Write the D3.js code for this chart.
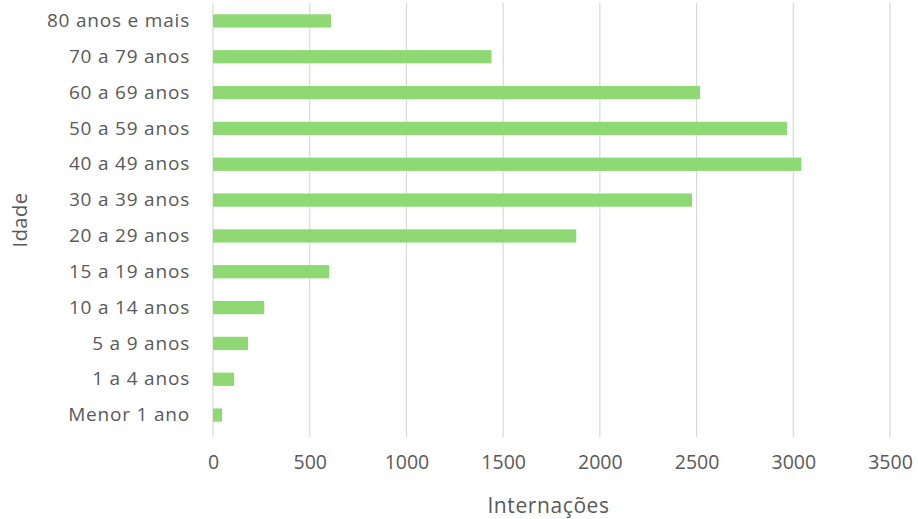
<!DOCTYPE html>
<html>
<head>
<meta charset="utf-8">
<script src="https://cdn.jsdelivr.net/npm/d3@7"></script>
<style>
  body { margin: 0; background: #fff; }
  text { font-family: "Open Sans", sans-serif; fill: #595959; }
</style>
</head>
<body>
<div id="chart"></div>
<script>

// data, top to bottom as drawn
const faixas = [
  "80 anos e mais", "70 a 79 anos", "60 a 69 anos", "50 a 59 anos",
  "40 a 49 anos", "30 a 39 anos", "20 a 29 anos", "15 a 19 anos",
  "10 a 14 anos", "5 a 9 anos", "1 a 4 anos", "Menor 1 ano"
];
const internacoes = [610, 1440, 2518, 2968, 3042, 2477, 1878, 601, 265, 181, 109, 47];
const xTicks = [0, 500, 1000, 1500, 2000, 2500, 3000, 3500];

const W = 918, H = 519;
const margins = { top: 3, right: 28, bottom: 86, left: 213 };
const graphWidth = W - margins.left - margins.right;
const graphHeight = H - margins.top - margins.bottom;

const svg = d3.select("#chart").append("svg")
  .attr("width", W)
  .attr("height", H);

const graph = svg.append("g")
  .attr("transform", `translate(${margins.left},${margins.top})`);

const x = d3.scaleLinear().domain([0, 3500]).range([0, graphWidth]);
const y = d3.scaleBand().domain(faixas).range([0, graphHeight]).paddingInner(0.63).paddingOuter(0.315);

// gridlines
graph.append("g")
  .selectAll("line")
  .data(xTicks)
  .enter()
  .append("line")
  .attr("x1", d => x(d)).attr("x2", d => x(d))
  .attr("y1", 0).attr("y2", graphHeight + 4)
  .attr("stroke", "#d9d9d9")
  .attr("stroke-width", 1.2);

// bars
graph.selectAll("rect")
  .data(faixas)
  .enter()
  .append("rect")
  .attr("x", x(0))
  .attr("y", d => y(d))
  .attr("height", y.bandwidth())
  .attr("width", (d, i) => x(internacoes[i]) - x(0))
  .attr("fill", "#8ED973");

// x axis labels
const xAxis = d3.axisBottom(x).tickValues(xTicks).tickFormat(d3.format("d")).tickSize(0).tickPadding(22);
const xg = graph.append("g")
  .attr("transform", `translate(0,${graphHeight})`)
  .call(xAxis);
xg.select(".domain").remove();
xg.selectAll("text")
  .attr("font-size", "19.5px")
  .style("font-family", "Open Sans, sans-serif")
  .attr("fill", "#595959");

// y axis labels
const yAxis = d3.axisLeft(y).tickSize(0).tickPadding(23);
const yg = graph.append("g").call(yAxis);
yg.select(".domain").remove();
yg.selectAll("text")
  .attr("font-size", "19px")
  .style("font-family", "Open Sans, sans-serif")
  .style("letter-spacing", "0.8px")
  .attr("fill", "#595959");

// axis titles
svg.append("text")
  .attr("x", margins.left + graphWidth / 2 - 3)
  .attr("y", 513)
  .attr("text-anchor", "middle")
  .attr("font-size", "21px")
  .style("letter-spacing", "0.6px")
  .text("Internações");

svg.append("text")
  .attr("transform", `translate(27,${margins.top + graphHeight / 2 + 2}) rotate(-90)`)
  .attr("text-anchor", "middle")
  .attr("font-size", "20px")
  .style("letter-spacing", "0.5px")
  .text("Idade");

</script>
</body>
</html>
